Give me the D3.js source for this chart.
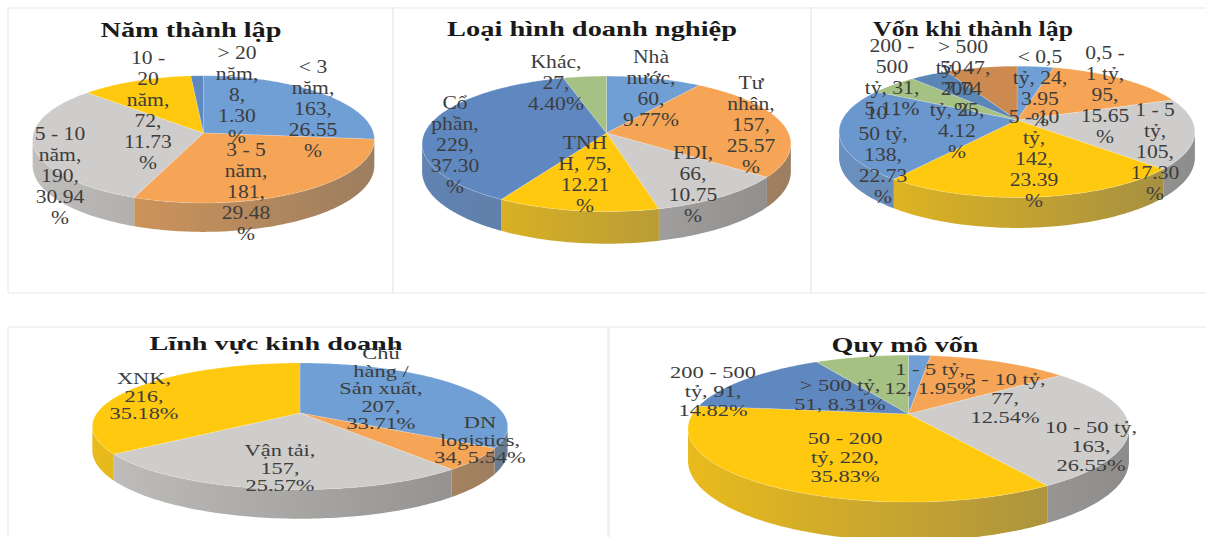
<!DOCTYPE html>
<html lang="vi">
<head>
<meta charset="utf-8">
<title>Đặc điểm doanh nghiệp</title>
<script src="https://cdn.jsdelivr.net/npm/d3@7/dist/d3.min.js"></script>
<style>
  html, body { margin: 0; padding: 0; background: #fff; }
  svg { display: block; }
  .title { font-family: "Liberation Serif", serif; font-weight: 700; fill: #1a1a1a; text-anchor: middle; }
  .label { font-family: "Liberation Serif", serif; fill: #3d3d3d; text-anchor: middle; }
</style>
</head>
<body>
<svg id="chart" width="1206" height="537"></svg>
<script>
// Năm thành lập
const yearCategories = ["< 3 năm", "3 - 5 năm", "5 - 10 năm", "10 - 20 năm", "> 20 năm"];
const yearValues = [163, 181, 190, 72, 8];
const yearWraps = [
  ["< 3", "năm,", "{v},", "{p}", "%"],
  ["3 - 5", "năm,", "{v},", "{p}", "%"],
  ["5 - 10", "năm,", "{v},", "{p}", "%"],
  ["10 -", "20", "năm,", "{v},", "{p}", "%"],
  ["> 20", "năm,", "{v},", "{p}", "%"]
];

// Loại hình doanh nghiệp
const typeCategories = ["Nhà nước", "Tư nhân", "FDI", "TNHH", "Cổ phần", "Khác"];
const typeValues = [60, 157, 66, 75, 229, 27];
const typeWraps = [
  ["Nhà", "nước,", "{v},", "{p}%"],
  ["Tư", "nhân,", "{v},", "{p}", "%"],
  ["FDI,", "{v},", "{p}", "%"],
  ["TNH", "H, {v},", "{p}", "%"],
  ["Cổ", "phần,", "{v},", "{p}", "%"],
  ["Khác,", "{v},", "{p}%"]
];

// Vốn khi thành lập
const foundingCategories = ["< 0,5 tỷ", "0,5 - 1 tỷ", "1 - 5 tỷ", "5 - 10 tỷ", "10 - 50 tỷ", "200 - 500 tỷ", "50 - 200 tỷ", "> 500 tỷ"];
const foundingValues = [24, 95, 105, 142, 138, 31, 25, 47];
const foundingWraps = [
  ["< 0,5", "tỷ, {v},", "{p}", "%"],
  ["0,5 -", "1 tỷ,", "{v},", "{p}", "%"],
  ["1 - 5", "tỷ,", "{v},", "{p}", "%"],
  ["5 - 10", "tỷ,", "{v},", "{p}", "%"],
  ["10 -", "50 tỷ,", "{v},", "{p}", "%"],
  ["200 -", "500", "tỷ, {v},", "{p}%"],
  ["50 -", "200", "tỷ, {v},", "{p}", "%"],
  ["> 500", "tỷ, {v},", "{p}", "%"]
];

// Lĩnh vực kinh doanh
const sectorCategories = ["Chủ hàng / Sản xuất", "DN logistics", "Vận tải", "XNK"];
const sectorValues = [207, 34, 157, 216];
const sectorWraps = [
  ["Chủ", "hàng /", "Sản xuất,", "{v},", "{p}%"],
  ["DN", "logistics,", "{v}, {p}%"],
  ["Vận tải,", "{v},", "{p}%"],
  ["XNK,", "{v},", "{p}%"]
];

// Quy mô vốn
const scaleCategories = ["1 - 5 tỷ", "5 - 10 tỷ", "10 - 50 tỷ", "50 - 200 tỷ", "200 - 500 tỷ", "> 500 tỷ"];
const scaleValues = [12, 77, 163, 220, 91, 51];
const scaleWraps = [
  ["1 - 5 tỷ,", "{v}, {p}%"],
  ["5 - 10 tỷ,", "{v},", "{p}%"],
  ["10 - 50 tỷ,", "{v},", "{p}%"],
  ["50 - 200", "tỷ, {v},", "{p}%"],
  ["200 - 500", "tỷ, {v},", "{p}%"],
  ["> 500 tỷ,", "{v}, {p}%"]
];

const chartTitles = ["Năm thành lập", "Loại hình doanh nghiệp", "Vốn khi thành lập", "Lĩnh vực kinh doanh", "Quy mô vốn"];

// Slice colours
const blue = "#6f9fd4", orange = "#f5a555", gray = "#cfcdcb", yellow = "#ffc90f",
      steel = "#5f88c0", green = "#a5c184", slate = "#5a86b8", rust = "#cc8a50";

// Placement of each pie: centre, radii, tilt strength k, wall depth, label type
const layouts = [
  { panel: [8, 8, 385, 285],  title: [191, 37, 181, 22],  cx: 203.5, cy: 133, rx: 170, ry: 63, k: 0.10, depth: 26,
    font: 18, stretch: 1.2, lineGap: 21, colors: [blue, orange, gray, yellow, steel],
    spots: [[313, 73], [246, 156], [60, 140], [148, 64], [237, 59]] },
  { panel: [393, 8, 418, 285], title: [592, 36, 290, 22], cx: 606.5, cy: 133, rx: 182, ry: 66, k: 0.16, depth: 27,
    font: 18, stretch: 1.2, lineGap: 21, colors: [blue, orange, gray, yellow, steel, green],
    spots: [[651, 63], [751, 89], [693, 159], [585, 149], [455, 109], [556, 68]] },
  { panel: [811, 8, 400, 285], title: [973, 36, 200, 22], cx: 1017, cy: 120, rx: 175, ry: 63.5, k: 0.18, depth: 25,
    font: 18, stretch: 1.2, lineGap: 21, colors: [blue, orange, gray, yellow, "#6b97cf", green, slate, rust],
    spots: [[1040, 63], [1105, 59], [1155, 116], [1034, 123], [883, 119], [892, 52], [957, 74], [963, 53]] },
  { panel: [8, 327, 600, 215], title: [276, 350, 253, 19], cx: 300, cy: 413, rx: 203, ry: 60.5, k: 0.21, depth: 23,
    font: 16, stretch: 1.4, lineGap: 17.5, colors: [blue, orange, gray, yellow],
    spots: [[381, 359], [480, 428], [280, 456], [144, 384]] },
  { panel: [609, 327, 600, 215], title: [905, 352, 147, 21], cx: 908.5, cy: 414, rx: 216, ry: 70.5, k: 0.20, depth: 31,
    font: 17, stretch: 1.32, lineGap: 19, colors: [blue, orange, gray, yellow, steel, green],
    spots: [[930, 375], [1005, 385], [1091, 433], [845, 444], [713, 378], [840, 391]] }
];

const series = [
  { categories: yearCategories, values: yearValues, wraps: yearWraps },
  { categories: typeCategories, values: typeValues, wraps: typeWraps },
  { categories: foundingCategories, values: foundingValues, wraps: foundingWraps },
  { categories: sectorCategories, values: sectorValues, wraps: sectorWraps },
  { categories: scaleCategories, values: scaleValues, wraps: scaleWraps }
];

const svg = d3.select("#chart");
const defs = svg.append("defs");
const pie = d3.pie().sort(null).value(d => d);
const percent = d3.format(".2f");
const DEG = Math.PI / 180;

series.forEach((s, ci) => {
  const lay = layouts[ci];
  const g = svg.append("g");

  g.append("rect")
    .attr("x", lay.panel[0]).attr("y", lay.panel[1])
    .attr("width", lay.panel[2]).attr("height", lay.panel[3])
    .attr("fill", "#fff").attr("stroke", "#e7e7e7").attr("stroke-width", 1);

  // Perspective mapping of the unit disc onto the tilted pie
  const project = (angle, radius = 1, drop = 0) => {
    const X = Math.sin(angle) * radius, Y = -Math.cos(angle) * radius;
    const w = 1 / (1 - lay.k * Y);
    return [lay.cx + lay.rx * X * w, lay.cy + lay.ry * Y * w + drop * w];
  };
  const sweep = (a0, a1) => {
    const n = Math.max(2, Math.ceil(Math.abs(a1 - a0) / DEG));
    return d3.range(n + 1).map(i => a0 + (a1 - a0) * i / n);
  };
  const line = d3.line();
  const arcs = pie(s.values);
  const total = d3.sum(s.values);

  // The rim is only visible between the two silhouette tangents
  const rimStart = Math.acos(-lay.k), rimEnd = 2 * Math.PI - rimStart;

  arcs.forEach((a, i) => {
    const color = lay.colors[i];
    const gradId = `wall-${ci}-${i}`;
    const grad = defs.append("linearGradient").attr("id", gradId)
      .attr("gradientUnits", "userSpaceOnUse")
      .attr("x1", lay.cx - lay.rx).attr("x2", lay.cx + lay.rx)
      .attr("y1", 0).attr("y2", 0);
    grad.append("stop").attr("offset", 0).attr("stop-color", d3.interpolateRgb(color, "#666")(0.15));
    grad.append("stop").attr("offset", 1).attr("stop-color", d3.interpolateRgb(color, "#666")(0.62));

    const a0 = Math.max(a.startAngle, rimStart), a1 = Math.min(a.endAngle, rimEnd);
    if (a1 > a0) {
      const top = sweep(a0, a1).map(t => project(t));
      const bottom = sweep(a1, a0).map(t => project(t, 1, lay.depth));
      g.append("path").attr("d", line(top.concat(bottom)) + "Z").attr("fill", `url(#${gradId})`);
    }
  });

  arcs.forEach((a, i) => {
    const rim = sweep(a.startAngle, a.endAngle).map(t => project(t));
    g.append("path")
      .attr("d", line([project(0, 0)].concat(rim)) + "Z")
      .attr("fill", lay.colors[i])
      .attr("stroke", "#fff").attr("stroke-opacity", 0.3).attr("stroke-width", 0.6);
  });

  // Chart heading, fitted to its measured width
  g.append("text").attr("class", "title")
    .attr("x", lay.title[0]).attr("y", lay.title[1])
    .attr("font-size", lay.title[3])
    .attr("textLength", lay.title[2])
    .attr("lengthAdjust", "spacingAndGlyphs")
    .text(chartTitles[ci]);

  // Data labels: category, count and share on wrapped lines
  s.wraps.forEach((wrap, i) => {
    const share = percent(s.values[i] / total * 100);
    const [sx, sy] = lay.spots[i];
    wrap.forEach((row, r) => {
      g.append("text").attr("class", "label")
        .attr("font-size", lay.font)
        .attr("transform", `translate(${sx},${sy + r * lay.lineGap}) scale(${lay.stretch},1)`)
        .text(row.replace("{v}", s.values[i]).replace("{p}", share));
    });
  });
});
</script>
</body>
</html>
